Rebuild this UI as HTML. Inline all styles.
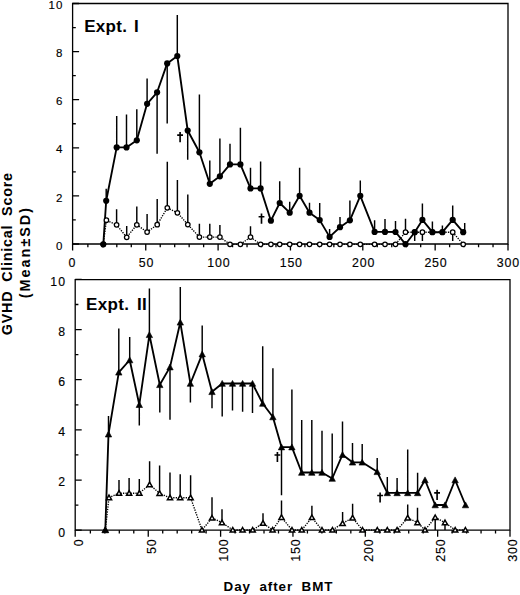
<!DOCTYPE html><html><head><meta charset="utf-8"><style>html,body{margin:0;padding:0;background:#fff;width:520px;height:595px;overflow:hidden}.t{stroke:#000;stroke-width:0.15px}body{position:relative;font-family:"Liberation Sans", sans-serif}</style></head><body><svg width="520" height="595" viewBox="0 0 520 595" style="position:absolute;left:0;top:0;font-family:'Liberation Sans', sans-serif">
<rect width="520" height="595" fill="#fff"/>
<path d="M72.6 3.5H508.0V244.0H72.6Z" fill="none" stroke="#000" stroke-width="1.3"/>
<path d="M72.6 244.00h6.5M72.6 219.95h3.2M72.6 195.90h6.5M72.6 171.85h3.2M72.6 147.80h6.5M72.6 123.75h3.2M72.6 99.70h6.5M72.6 75.65h3.2M72.6 51.60h6.5M72.6 27.55h3.2M72.6 3.50h6.5" stroke="#000" stroke-width="1.3" fill="none"/>
<path d="M72.60 244.0v6.5M87.87 244.0v3.3M102.34 244.0v3.3M116.81 244.0v3.3M131.28 244.0v3.3M145.75 244.0v6.5M160.22 244.0v3.3M174.69 244.0v3.3M189.16 244.0v3.3M203.63 244.0v3.3M218.10 244.0v6.5M232.57 244.0v3.3M247.04 244.0v3.3M261.51 244.0v3.3M275.98 244.0v3.3M290.45 244.0v6.5M304.92 244.0v3.3M319.39 244.0v3.3M333.86 244.0v3.3M348.33 244.0v3.3M362.80 244.0v6.5M377.27 244.0v3.3M391.74 244.0v3.3M406.21 244.0v3.3M420.68 244.0v3.3M435.15 244.0v6.5M449.62 244.0v3.3M464.09 244.0v3.3M478.56 244.0v3.3M493.03 244.0v3.3M508.00 244.0v6.5" stroke="#000" stroke-width="1.3" fill="none"/>
<text class="t" x="63.4" y="249.60" text-anchor="end" font-size="11.5" letter-spacing="1.0">0</text>
<text class="t" x="63.4" y="201.50" text-anchor="end" font-size="11.5" letter-spacing="1.0">2</text>
<text class="t" x="63.4" y="153.40" text-anchor="end" font-size="11.5" letter-spacing="1.0">4</text>
<text class="t" x="63.4" y="105.30" text-anchor="end" font-size="11.5" letter-spacing="1.0">6</text>
<text class="t" x="63.4" y="57.20" text-anchor="end" font-size="11.5" letter-spacing="1.0">8</text>
<text class="t" x="63.4" y="9.10" text-anchor="end" font-size="11.5" letter-spacing="1.0">10</text>
<text class="t" x="72.30" y="266.6" text-anchor="middle" font-size="12.4" letter-spacing="0.8">0</text>
<text class="t" x="146.55" y="266.6" text-anchor="middle" font-size="12.4" letter-spacing="0.8">50</text>
<text class="t" x="218.90" y="266.6" text-anchor="middle" font-size="12.4" letter-spacing="0.8">100</text>
<text class="t" x="291.25" y="266.6" text-anchor="middle" font-size="12.4" letter-spacing="0.8">150</text>
<text class="t" x="363.60" y="266.6" text-anchor="middle" font-size="12.4" letter-spacing="0.8">200</text>
<text class="t" x="435.95" y="266.6" text-anchor="middle" font-size="12.4" letter-spacing="0.8">250</text>
<text class="t" x="508.30" y="266.6" text-anchor="middle" font-size="12.4" letter-spacing="0.8">300</text>
<text y="31.8" font-size="17" font-weight="bold" letter-spacing="0.3"><tspan x="84.2">Expt.</tspan><tspan x="133.9">I</tspan></text>
<path d="M116.6 224.8V209.2M126.7 237.3V226.0M136.8 224.8V206.6M147.1 232.0V214.0M157.2 224.7V199.0M167.3 207.8V161.7M177.4 212.8V180.1M187.8 224.5V194.6M199.4 237.1V223.7M209.8 237.1V223.7M219.9 237.1V225.0M250.5 237.1V226.3M405.5 232.2V218.8M422.4 232.2V241.0M452.7 232.2V241.0" stroke="#000" stroke-width="1.45" fill="none"/>
<path d="M106.2 200.8V188.8M116.7 147.4V115.9M126.5 147.4V114.6M136.8 140.3V109.3M147.1 103.8V78.5M157.1 92.3V153.7M167.2 63.4V123.5M177.3 56.0V15.0M187.7 130.5V159.7M199.4 152.3V94.4M209.8 183.8V160.6M219.9 176.3V138.6M230.0 164.4V143.7M240.4 164.4V127.8M250.5 188.4V167.7M260.6 188.4V161.4M279.7 203.0V181.3M289.7 212.7V201.8M299.6 195.8V167.7M309.5 212.7V202.8M319.7 220.1V203.0M329.6 236.9V228.9M340.0 227.2V216.9M349.9 220.3V200.5M360.3 195.8V180.4M374.6 231.9V220.3M385.0 231.9V218.9M395.5 232.0V221.0M414.7 232.2V241.0M422.4 219.9V203.5M432.4 232.2V221.5M442.4 232.2V225.5M452.7 219.9V205.5M464.7 232.2V223.0" stroke="#000" stroke-width="1.45" fill="none"/>
<path d="M103.3 244.3 L106.4 220.2 L116.6 224.8 L126.7 237.3 L136.8 224.8 L147.1 232.0 L157.2 224.7 L167.3 207.8 L177.4 212.8 L187.8 224.5 L199.4 237.1 L209.8 237.1 L219.9 237.1 L230.0 244.3 L240.4 244.3 L250.5 237.1 L260.6 244.3 L270.9 244.3 L279.7 244.3 L289.7 244.3 L299.6 244.3 L309.5 244.3 L319.7 244.3 L329.6 244.3 L340.0 244.3 L349.9 244.3 L360.3 244.3 L374.6 244.3 L385.0 244.3 L395.5 244.3 L405.5 232.2 L414.7 232.2 L422.4 232.2 L432.4 232.2 L442.4 232.2 L452.7 232.2 L463.2 244.3" fill="none" stroke="#000" stroke-width="1.35" stroke-dasharray="1.3 1.2"/>
<path d="M103.3 244.3 L106.2 200.8 L116.7 147.4 L126.5 147.4 L136.8 140.3 L147.1 103.8 L157.1 92.3 L167.2 63.4 L177.3 56.0 L187.7 130.5 L199.4 152.3 L209.8 183.8 L219.9 176.3 L230.0 164.4 L240.4 164.4 L250.5 188.4 L260.6 188.4 L270.9 220.7 L279.7 203.0 L289.7 212.7 L299.6 195.8 L309.5 212.7 L319.7 220.1 L329.6 236.9 L340.0 227.2 L349.9 220.3 L360.3 195.8 L374.6 231.9 L385.0 231.9 L395.5 232.0 L405.5 244.2 L414.7 232.2 L422.4 219.9 L432.4 232.2 L442.4 232.2 L452.7 219.9 L463.2 232.2" fill="none" stroke="#000" stroke-width="1.85" stroke-linejoin="round"/>
<circle cx="103.3" cy="244.3" r="2.25" fill="#fff" stroke="#000" stroke-width="1.25"/>
<circle cx="106.4" cy="220.2" r="2.25" fill="#fff" stroke="#000" stroke-width="1.25"/>
<circle cx="116.6" cy="224.8" r="2.25" fill="#fff" stroke="#000" stroke-width="1.25"/>
<circle cx="126.7" cy="237.3" r="2.25" fill="#fff" stroke="#000" stroke-width="1.25"/>
<circle cx="136.8" cy="224.8" r="2.25" fill="#fff" stroke="#000" stroke-width="1.25"/>
<circle cx="147.1" cy="232.0" r="2.25" fill="#fff" stroke="#000" stroke-width="1.25"/>
<circle cx="157.2" cy="224.7" r="2.25" fill="#fff" stroke="#000" stroke-width="1.25"/>
<circle cx="167.3" cy="207.8" r="2.25" fill="#fff" stroke="#000" stroke-width="1.25"/>
<circle cx="177.4" cy="212.8" r="2.25" fill="#fff" stroke="#000" stroke-width="1.25"/>
<circle cx="187.8" cy="224.5" r="2.25" fill="#fff" stroke="#000" stroke-width="1.25"/>
<circle cx="199.4" cy="237.1" r="2.25" fill="#fff" stroke="#000" stroke-width="1.25"/>
<circle cx="209.8" cy="237.1" r="2.25" fill="#fff" stroke="#000" stroke-width="1.25"/>
<circle cx="219.9" cy="237.1" r="2.25" fill="#fff" stroke="#000" stroke-width="1.25"/>
<circle cx="230.0" cy="244.3" r="2.25" fill="#fff" stroke="#000" stroke-width="1.25"/>
<circle cx="240.4" cy="244.3" r="2.25" fill="#fff" stroke="#000" stroke-width="1.25"/>
<circle cx="250.5" cy="237.1" r="2.25" fill="#fff" stroke="#000" stroke-width="1.25"/>
<circle cx="260.6" cy="244.3" r="2.25" fill="#fff" stroke="#000" stroke-width="1.25"/>
<circle cx="270.9" cy="244.3" r="2.25" fill="#fff" stroke="#000" stroke-width="1.25"/>
<circle cx="279.7" cy="244.3" r="2.25" fill="#fff" stroke="#000" stroke-width="1.25"/>
<circle cx="289.7" cy="244.3" r="2.25" fill="#fff" stroke="#000" stroke-width="1.25"/>
<circle cx="299.6" cy="244.3" r="2.25" fill="#fff" stroke="#000" stroke-width="1.25"/>
<circle cx="309.5" cy="244.3" r="2.25" fill="#fff" stroke="#000" stroke-width="1.25"/>
<circle cx="319.7" cy="244.3" r="2.25" fill="#fff" stroke="#000" stroke-width="1.25"/>
<circle cx="329.6" cy="244.3" r="2.25" fill="#fff" stroke="#000" stroke-width="1.25"/>
<circle cx="340.0" cy="244.3" r="2.25" fill="#fff" stroke="#000" stroke-width="1.25"/>
<circle cx="349.9" cy="244.3" r="2.25" fill="#fff" stroke="#000" stroke-width="1.25"/>
<circle cx="360.3" cy="244.3" r="2.25" fill="#fff" stroke="#000" stroke-width="1.25"/>
<circle cx="374.6" cy="244.3" r="2.25" fill="#fff" stroke="#000" stroke-width="1.25"/>
<circle cx="385.0" cy="244.3" r="2.25" fill="#fff" stroke="#000" stroke-width="1.25"/>
<circle cx="395.5" cy="244.3" r="2.25" fill="#fff" stroke="#000" stroke-width="1.25"/>
<circle cx="405.5" cy="232.2" r="2.25" fill="#fff" stroke="#000" stroke-width="1.25"/>
<circle cx="414.7" cy="232.2" r="2.25" fill="#fff" stroke="#000" stroke-width="1.25"/>
<circle cx="422.4" cy="232.2" r="2.25" fill="#fff" stroke="#000" stroke-width="1.25"/>
<circle cx="432.4" cy="232.2" r="2.25" fill="#fff" stroke="#000" stroke-width="1.25"/>
<circle cx="442.4" cy="232.2" r="2.25" fill="#fff" stroke="#000" stroke-width="1.25"/>
<circle cx="452.7" cy="232.2" r="2.25" fill="#fff" stroke="#000" stroke-width="1.25"/>
<circle cx="463.2" cy="244.3" r="2.25" fill="#fff" stroke="#000" stroke-width="1.25"/>
<circle cx="103.3" cy="244.3" r="3.1"/>
<circle cx="106.2" cy="200.8" r="3.1"/>
<circle cx="116.7" cy="147.4" r="3.1"/>
<circle cx="126.5" cy="147.4" r="3.1"/>
<circle cx="136.8" cy="140.3" r="3.1"/>
<circle cx="147.1" cy="103.8" r="3.1"/>
<circle cx="157.1" cy="92.3" r="3.1"/>
<circle cx="167.2" cy="63.4" r="3.1"/>
<circle cx="177.3" cy="56.0" r="3.1"/>
<circle cx="187.7" cy="130.5" r="3.1"/>
<circle cx="199.4" cy="152.3" r="3.1"/>
<circle cx="209.8" cy="183.8" r="3.1"/>
<circle cx="219.9" cy="176.3" r="3.1"/>
<circle cx="230.0" cy="164.4" r="3.1"/>
<circle cx="240.4" cy="164.4" r="3.1"/>
<circle cx="250.5" cy="188.4" r="3.1"/>
<circle cx="260.6" cy="188.4" r="3.1"/>
<circle cx="270.9" cy="220.7" r="3.1"/>
<circle cx="279.7" cy="203.0" r="3.1"/>
<circle cx="289.7" cy="212.7" r="3.1"/>
<circle cx="299.6" cy="195.8" r="3.1"/>
<circle cx="309.5" cy="212.7" r="3.1"/>
<circle cx="319.7" cy="220.1" r="3.1"/>
<circle cx="329.6" cy="236.9" r="3.1"/>
<circle cx="340.0" cy="227.2" r="3.1"/>
<circle cx="349.9" cy="220.3" r="3.1"/>
<circle cx="360.3" cy="195.8" r="3.1"/>
<circle cx="374.6" cy="231.9" r="3.1"/>
<circle cx="385.0" cy="231.9" r="3.1"/>
<circle cx="395.5" cy="232.0" r="3.1"/>
<circle cx="405.5" cy="244.2" r="3.1"/>
<circle cx="414.7" cy="232.2" r="3.1"/>
<circle cx="422.4" cy="219.9" r="3.1"/>
<circle cx="432.4" cy="232.2" r="3.1"/>
<circle cx="442.4" cy="232.2" r="3.1"/>
<circle cx="452.7" cy="219.9" r="3.1"/>
<circle cx="463.2" cy="232.2" r="3.1"/>
<path d="M180.1 132.0V142.2M177.2 135.1H183.0" stroke="#000" stroke-width="1.65" fill="none"/>
<path d="M261.5 213.6V223.79999999999998M258.6 216.7H264.4" stroke="#000" stroke-width="1.65" fill="none"/>
<path d="M75.2 279.7H510.0V530.2H75.2Z" fill="none" stroke="#000" stroke-width="1.3"/>
<path d="M75.2 530.20h6.5M75.2 505.12h3.2M75.2 480.04h6.5M75.2 454.96h3.2M75.2 429.88h6.5M75.2 404.80h3.2M75.2 379.72h6.5M75.2 354.64h3.2M75.2 329.56h6.5M75.2 304.48h3.2M75.2 279.40h6.5" stroke="#000" stroke-width="1.3" fill="none"/>
<path d="M75.20 530.2v6.5M90.37 530.2v3.3M104.84 530.2v3.3M119.31 530.2v3.3M133.78 530.2v3.3M148.25 530.2v6.5M162.72 530.2v3.3M177.19 530.2v3.3M191.66 530.2v3.3M206.13 530.2v3.3M220.60 530.2v6.5M235.07 530.2v3.3M249.54 530.2v3.3M264.01 530.2v3.3M278.48 530.2v3.3M292.95 530.2v6.5M307.42 530.2v3.3M321.89 530.2v3.3M336.36 530.2v3.3M350.83 530.2v3.3M365.30 530.2v6.5M379.77 530.2v3.3M394.24 530.2v3.3M408.71 530.2v3.3M423.18 530.2v3.3M437.65 530.2v6.5M452.12 530.2v3.3M466.59 530.2v3.3M481.06 530.2v3.3M495.53 530.2v3.3M510.00 530.2v6.5" stroke="#000" stroke-width="1.3" fill="none"/>
<text class="t" x="66.0" y="536.50" text-anchor="end" font-size="12.3" letter-spacing="1.0">0</text>
<text class="t" x="66.0" y="486.34" text-anchor="end" font-size="12.3" letter-spacing="1.0">2</text>
<text class="t" x="66.0" y="436.18" text-anchor="end" font-size="12.3" letter-spacing="1.0">4</text>
<text class="t" x="66.0" y="386.02" text-anchor="end" font-size="12.3" letter-spacing="1.0">6</text>
<text class="t" x="66.0" y="335.86" text-anchor="end" font-size="12.3" letter-spacing="1.0">8</text>
<text class="t" x="66.0" y="285.70" text-anchor="end" font-size="12.3" letter-spacing="1.0">10</text>
<text class="t" transform="translate(83.30 538.4) rotate(-90)" text-anchor="end" font-size="12.5" letter-spacing="0.8">0</text>
<text class="t" transform="translate(155.65 538.4) rotate(-90)" text-anchor="end" font-size="12.5" letter-spacing="0.8">50</text>
<text class="t" transform="translate(228.00 538.4) rotate(-90)" text-anchor="end" font-size="12.5" letter-spacing="0.8">100</text>
<text class="t" transform="translate(300.35 538.4) rotate(-90)" text-anchor="end" font-size="12.5" letter-spacing="0.8">150</text>
<text class="t" transform="translate(372.70 538.4) rotate(-90)" text-anchor="end" font-size="12.5" letter-spacing="0.8">200</text>
<text class="t" transform="translate(445.05 538.4) rotate(-90)" text-anchor="end" font-size="12.5" letter-spacing="0.8">250</text>
<text class="t" transform="translate(517.40 538.4) rotate(-90)" text-anchor="end" font-size="12.5" letter-spacing="0.8">300</text>
<text y="309.6" font-size="17" font-weight="bold" letter-spacing="0.3"><tspan x="86.1">Expt.</tspan><tspan x="137.0">II</tspan></text>
<path d="M119.0 493.2V480.0M129.1 493.2V478.0M139.3 493.2V479.0M149.6 484.6V461.3M159.6 493.3V465.4M170.0 497.7V472.4M180.2 497.7V474.2M190.6 497.7V475.3M212.0 518.0V497.2M222.0 522.6V509.3M263.0 523.2V513.2M281.5 517.3V500.5M311.9 517.5V505.8M342.6 523.3V512.0M352.6 517.8V503.8M407.7 517.8V504.5M417.5 522.6V507.7M435.2 517.5V530.0M445.0 522.6V530.0" stroke="#000" stroke-width="1.45" fill="none"/>
<path d="M108.5 434.2V416.0M118.8 372.3V328.4M129.7 360.0V336.9M139.3 404.7V425.6M149.4 334.8V288.5M159.8 384.8V412.6M170.0 367.1V419.8M180.3 322.3V287.0M190.4 383.5V402.4M202.2 354.1V325.4M212.0 391.8V408.2M222.2 383.5V416.5M232.5 383.5V410.6M242.6 383.5V411.8M252.5 383.5V413.0M262.7 403.5V346.3M272.9 417.0V368.2M281.5 447.1V495.3M291.9 447.1V389.6M301.7 472.5V420.1M311.8 472.5V420.1M322.0 472.5V430.8M332.2 478.5V433.5M342.5 454.7V421.5M352.5 462.3V443.0M362.2 462.3V444.0M377.2 471.8V457.9M387.3 492.9V477.0M397.1 492.9V478.0M407.7 492.9V449.5M417.6 492.9V472.8" stroke="#000" stroke-width="1.45" fill="none"/>
<path d="M105.3 530.0 L109.0 497.6 L119.0 493.2 L129.1 493.2 L139.3 493.2 L149.6 484.6 L159.6 493.3 L170.0 497.7 L180.2 497.7 L190.6 497.7 L202.0 530.0 L212.0 518.0 L222.0 522.6 L232.8 530.0 L242.6 530.0 L252.7 530.0 L263.0 523.2 L272.6 530.0 L281.5 517.3 L292.0 530.0 L301.8 530.0 L311.9 517.5 L322.0 530.0 L332.5 530.0 L342.6 523.3 L352.6 517.8 L362.5 530.0 L377.3 530.0 L387.3 530.0 L397.1 530.0 L407.7 517.8 L417.5 522.6 L425.0 530.0 L435.2 517.5 L445.0 522.6 L455.2 530.0 L465.4 530.0" fill="none" stroke="#000" stroke-width="1.35" stroke-dasharray="1.3 1.2"/>
<path d="M105.3 530.0 L108.5 434.2 L118.8 372.3 L129.7 360.0 L139.3 404.7 L149.4 334.8 L159.8 384.8 L170.0 367.1 L180.3 322.3 L190.4 383.5 L202.2 354.1 L212.0 391.8 L222.2 383.5 L232.5 383.5 L242.6 383.5 L252.5 383.5 L262.7 403.5 L272.9 417.0 L281.5 447.1 L291.9 447.1 L301.7 472.5 L311.8 472.5 L322.0 472.5 L332.2 478.5 L342.5 454.7 L352.5 462.3 L362.2 462.3 L377.2 471.8 L387.3 492.9 L397.1 492.9 L407.7 492.9 L417.6 492.9 L425.0 480.0 L435.2 505.0 L445.0 505.0 L455.1 480.0 L465.5 505.0" fill="none" stroke="#000" stroke-width="1.85" stroke-linejoin="round"/>
<path d="M105.3 527.5L107.89999999999999 532.1H102.7Z" fill="#fff" stroke="#000" stroke-width="1.5" stroke-linejoin="miter"/>
<path d="M109.0 495.1L111.6 499.70000000000005H106.4Z" fill="#fff" stroke="#000" stroke-width="1.5" stroke-linejoin="miter"/>
<path d="M119.0 490.7L121.6 495.3H116.4Z" fill="#fff" stroke="#000" stroke-width="1.5" stroke-linejoin="miter"/>
<path d="M129.1 490.7L131.7 495.3H126.5Z" fill="#fff" stroke="#000" stroke-width="1.5" stroke-linejoin="miter"/>
<path d="M139.3 490.7L141.9 495.3H136.70000000000002Z" fill="#fff" stroke="#000" stroke-width="1.5" stroke-linejoin="miter"/>
<path d="M149.6 482.1L152.2 486.70000000000005H147.0Z" fill="#fff" stroke="#000" stroke-width="1.5" stroke-linejoin="miter"/>
<path d="M159.6 490.8L162.2 495.40000000000003H157.0Z" fill="#fff" stroke="#000" stroke-width="1.5" stroke-linejoin="miter"/>
<path d="M170.0 495.2L172.6 499.8H167.4Z" fill="#fff" stroke="#000" stroke-width="1.5" stroke-linejoin="miter"/>
<path d="M180.2 495.2L182.79999999999998 499.8H177.6Z" fill="#fff" stroke="#000" stroke-width="1.5" stroke-linejoin="miter"/>
<path d="M190.6 495.2L193.2 499.8H188.0Z" fill="#fff" stroke="#000" stroke-width="1.5" stroke-linejoin="miter"/>
<path d="M202.0 527.5L204.6 532.1H199.4Z" fill="#fff" stroke="#000" stroke-width="1.5" stroke-linejoin="miter"/>
<path d="M212.0 515.5L214.6 520.1H209.4Z" fill="#fff" stroke="#000" stroke-width="1.5" stroke-linejoin="miter"/>
<path d="M222.0 520.1L224.6 524.7H219.4Z" fill="#fff" stroke="#000" stroke-width="1.5" stroke-linejoin="miter"/>
<path d="M232.8 527.5L235.4 532.1H230.20000000000002Z" fill="#fff" stroke="#000" stroke-width="1.5" stroke-linejoin="miter"/>
<path d="M242.6 527.5L245.2 532.1H240.0Z" fill="#fff" stroke="#000" stroke-width="1.5" stroke-linejoin="miter"/>
<path d="M252.7 527.5L255.29999999999998 532.1H250.1Z" fill="#fff" stroke="#000" stroke-width="1.5" stroke-linejoin="miter"/>
<path d="M263.0 520.7L265.6 525.3000000000001H260.4Z" fill="#fff" stroke="#000" stroke-width="1.5" stroke-linejoin="miter"/>
<path d="M272.6 527.5L275.20000000000005 532.1H270.0Z" fill="#fff" stroke="#000" stroke-width="1.5" stroke-linejoin="miter"/>
<path d="M281.5 514.8L284.1 519.4H278.9Z" fill="#fff" stroke="#000" stroke-width="1.5" stroke-linejoin="miter"/>
<path d="M292.0 527.5L294.6 532.1H289.4Z" fill="#fff" stroke="#000" stroke-width="1.5" stroke-linejoin="miter"/>
<path d="M301.8 527.5L304.40000000000003 532.1H299.2Z" fill="#fff" stroke="#000" stroke-width="1.5" stroke-linejoin="miter"/>
<path d="M311.9 515.0L314.5 519.6H309.29999999999995Z" fill="#fff" stroke="#000" stroke-width="1.5" stroke-linejoin="miter"/>
<path d="M322.0 527.5L324.6 532.1H319.4Z" fill="#fff" stroke="#000" stroke-width="1.5" stroke-linejoin="miter"/>
<path d="M332.5 527.5L335.1 532.1H329.9Z" fill="#fff" stroke="#000" stroke-width="1.5" stroke-linejoin="miter"/>
<path d="M342.6 520.8L345.20000000000005 525.4H340.0Z" fill="#fff" stroke="#000" stroke-width="1.5" stroke-linejoin="miter"/>
<path d="M352.6 515.3L355.20000000000005 519.9H350.0Z" fill="#fff" stroke="#000" stroke-width="1.5" stroke-linejoin="miter"/>
<path d="M362.5 527.5L365.1 532.1H359.9Z" fill="#fff" stroke="#000" stroke-width="1.5" stroke-linejoin="miter"/>
<path d="M377.3 527.5L379.90000000000003 532.1H374.7Z" fill="#fff" stroke="#000" stroke-width="1.5" stroke-linejoin="miter"/>
<path d="M387.3 527.5L389.90000000000003 532.1H384.7Z" fill="#fff" stroke="#000" stroke-width="1.5" stroke-linejoin="miter"/>
<path d="M397.1 527.5L399.70000000000005 532.1H394.5Z" fill="#fff" stroke="#000" stroke-width="1.5" stroke-linejoin="miter"/>
<path d="M407.7 515.3L410.3 519.9H405.09999999999997Z" fill="#fff" stroke="#000" stroke-width="1.5" stroke-linejoin="miter"/>
<path d="M417.5 520.1L420.1 524.7H414.9Z" fill="#fff" stroke="#000" stroke-width="1.5" stroke-linejoin="miter"/>
<path d="M425.0 527.5L427.6 532.1H422.4Z" fill="#fff" stroke="#000" stroke-width="1.5" stroke-linejoin="miter"/>
<path d="M435.2 515.0L437.8 519.6H432.59999999999997Z" fill="#fff" stroke="#000" stroke-width="1.5" stroke-linejoin="miter"/>
<path d="M445.0 520.1L447.6 524.7H442.4Z" fill="#fff" stroke="#000" stroke-width="1.5" stroke-linejoin="miter"/>
<path d="M455.2 527.5L457.8 532.1H452.59999999999997Z" fill="#fff" stroke="#000" stroke-width="1.5" stroke-linejoin="miter"/>
<path d="M465.4 527.5L468.0 532.1H462.79999999999995Z" fill="#fff" stroke="#000" stroke-width="1.5" stroke-linejoin="miter"/>
<path d="M105.3 526.9L108.5 532.8H102.1Z" stroke="#000" stroke-width="0.6" stroke-linejoin="round"/>
<path d="M108.5 431.09999999999997L111.7 437.0H105.3Z" stroke="#000" stroke-width="0.6" stroke-linejoin="round"/>
<path d="M118.8 369.2L122.0 375.1H115.6Z" stroke="#000" stroke-width="0.6" stroke-linejoin="round"/>
<path d="M129.7 356.9L132.89999999999998 362.8H126.49999999999999Z" stroke="#000" stroke-width="0.6" stroke-linejoin="round"/>
<path d="M139.3 401.59999999999997L142.5 407.5H136.10000000000002Z" stroke="#000" stroke-width="0.6" stroke-linejoin="round"/>
<path d="M149.4 331.7L152.6 337.6H146.20000000000002Z" stroke="#000" stroke-width="0.6" stroke-linejoin="round"/>
<path d="M159.8 381.7L163.0 387.6H156.60000000000002Z" stroke="#000" stroke-width="0.6" stroke-linejoin="round"/>
<path d="M170.0 364.0L173.2 369.90000000000003H166.8Z" stroke="#000" stroke-width="0.6" stroke-linejoin="round"/>
<path d="M180.3 319.2L183.5 325.1H177.10000000000002Z" stroke="#000" stroke-width="0.6" stroke-linejoin="round"/>
<path d="M190.4 380.4L193.6 386.3H187.20000000000002Z" stroke="#000" stroke-width="0.6" stroke-linejoin="round"/>
<path d="M202.2 351.0L205.39999999999998 356.90000000000003H199.0Z" stroke="#000" stroke-width="0.6" stroke-linejoin="round"/>
<path d="M212.0 388.7L215.2 394.6H208.8Z" stroke="#000" stroke-width="0.6" stroke-linejoin="round"/>
<path d="M222.2 380.4L225.39999999999998 386.3H219.0Z" stroke="#000" stroke-width="0.6" stroke-linejoin="round"/>
<path d="M232.5 380.4L235.7 386.3H229.3Z" stroke="#000" stroke-width="0.6" stroke-linejoin="round"/>
<path d="M242.6 380.4L245.79999999999998 386.3H239.4Z" stroke="#000" stroke-width="0.6" stroke-linejoin="round"/>
<path d="M252.5 380.4L255.7 386.3H249.3Z" stroke="#000" stroke-width="0.6" stroke-linejoin="round"/>
<path d="M262.7 400.4L265.9 406.3H259.5Z" stroke="#000" stroke-width="0.6" stroke-linejoin="round"/>
<path d="M272.9 413.9L276.09999999999997 419.8H269.7Z" stroke="#000" stroke-width="0.6" stroke-linejoin="round"/>
<path d="M281.5 444.0L284.7 449.90000000000003H278.3Z" stroke="#000" stroke-width="0.6" stroke-linejoin="round"/>
<path d="M291.9 444.0L295.09999999999997 449.90000000000003H288.7Z" stroke="#000" stroke-width="0.6" stroke-linejoin="round"/>
<path d="M301.7 469.4L304.9 475.3H298.5Z" stroke="#000" stroke-width="0.6" stroke-linejoin="round"/>
<path d="M311.8 469.4L315.0 475.3H308.6Z" stroke="#000" stroke-width="0.6" stroke-linejoin="round"/>
<path d="M322.0 469.4L325.2 475.3H318.8Z" stroke="#000" stroke-width="0.6" stroke-linejoin="round"/>
<path d="M332.2 475.4L335.4 481.3H329.0Z" stroke="#000" stroke-width="0.6" stroke-linejoin="round"/>
<path d="M342.5 451.59999999999997L345.7 457.5H339.3Z" stroke="#000" stroke-width="0.6" stroke-linejoin="round"/>
<path d="M352.5 459.2L355.7 465.1H349.3Z" stroke="#000" stroke-width="0.6" stroke-linejoin="round"/>
<path d="M362.2 459.2L365.4 465.1H359.0Z" stroke="#000" stroke-width="0.6" stroke-linejoin="round"/>
<path d="M377.2 468.7L380.4 474.6H374.0Z" stroke="#000" stroke-width="0.6" stroke-linejoin="round"/>
<path d="M387.3 489.79999999999995L390.5 495.7H384.1Z" stroke="#000" stroke-width="0.6" stroke-linejoin="round"/>
<path d="M397.1 489.79999999999995L400.3 495.7H393.90000000000003Z" stroke="#000" stroke-width="0.6" stroke-linejoin="round"/>
<path d="M407.7 489.79999999999995L410.9 495.7H404.5Z" stroke="#000" stroke-width="0.6" stroke-linejoin="round"/>
<path d="M417.6 489.79999999999995L420.8 495.7H414.40000000000003Z" stroke="#000" stroke-width="0.6" stroke-linejoin="round"/>
<path d="M425.0 476.9L428.2 482.8H421.8Z" stroke="#000" stroke-width="0.6" stroke-linejoin="round"/>
<path d="M435.2 501.9L438.4 507.8H432.0Z" stroke="#000" stroke-width="0.6" stroke-linejoin="round"/>
<path d="M445.0 501.9L448.2 507.8H441.8Z" stroke="#000" stroke-width="0.6" stroke-linejoin="round"/>
<path d="M455.1 476.9L458.3 482.8H451.90000000000003Z" stroke="#000" stroke-width="0.6" stroke-linejoin="round"/>
<path d="M465.5 501.9L468.7 507.8H462.3Z" stroke="#000" stroke-width="0.6" stroke-linejoin="round"/>
<path d="M277.4 451.9V462.1M274.5 455.0H280.29999999999995" stroke="#000" stroke-width="1.65" fill="none"/>
<path d="M380.1 492.4V502.6M377.20000000000005 495.5H383.0" stroke="#000" stroke-width="1.65" fill="none"/>
<path d="M437.1 489.79999999999995V500.0M434.20000000000005 492.9H440.0" stroke="#000" stroke-width="1.65" fill="none"/>
<text transform="translate(12.1 335.2) rotate(-90)" font-size="14.4" font-weight="bold" letter-spacing="0.75" word-spacing="4">GVHD Clinical Score</text>
<text transform="translate(29.6 298.2) rotate(-90)" font-size="14.4" font-weight="bold" letter-spacing="2.0">(Mean±SD)</text>
<text x="223.6" y="591.2" font-size="13.4" font-weight="bold" letter-spacing="0.9" word-spacing="4">Day after BMT</text>
</svg></body></html>
